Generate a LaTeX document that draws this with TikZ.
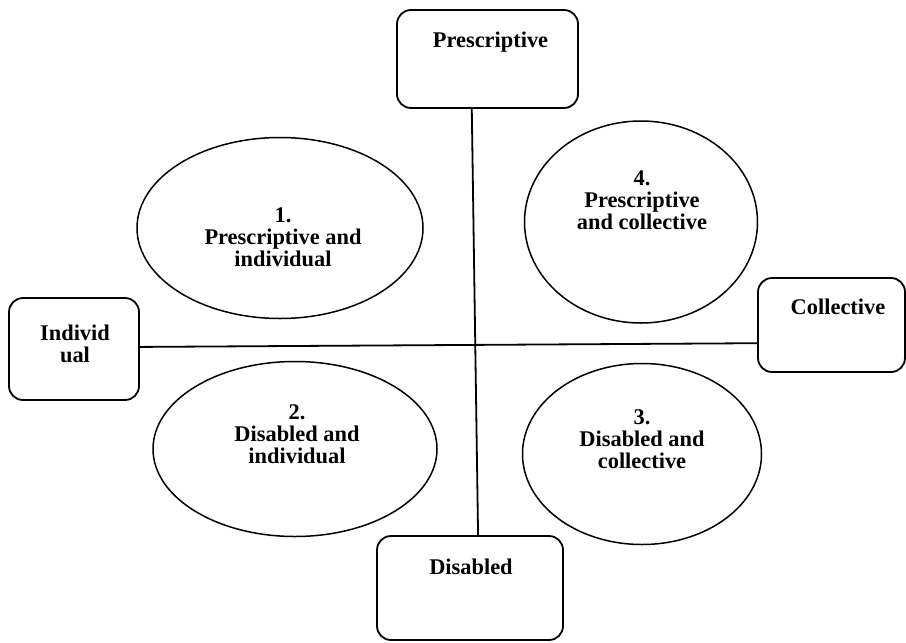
\documentclass[tikz,border=0pt]{standalone}
\usepackage{fontspec}
\setmainfont{Liberation Serif}
\usetikzlibrary{shapes.geometric,calc}
\begin{document}
\begin{tikzpicture}[x=0.5pt,y=-0.5pt,
  box/.style={draw,rounded corners=7pt,line width=0.9pt,inner sep=0pt},
  oval/.style={draw,ellipse,line width=0.75pt,inner sep=0pt},
  lbl/.style={font=\fontsize{11.2}{11}\selectfont\bfseries,align=center,inner sep=0pt},
  axis/.style={line width=0.9pt}]
\useasboundingbox (0,0) rectangle (906,643);
% boxes
\node[box,minimum width=90.5pt,minimum height=49pt] (pres) at (487.5,59) {};
\node[box,minimum width=65pt,minimum height=51pt] (ind) at (74,349) {};
\node[box,minimum width=73.5pt,minimum height=47pt] (coll) at (831.5,325) {};
\node[box,minimum width=93pt,minimum height=52pt] (dis) at (470,588) {};
% box labels
\node[lbl,anchor=base] (presT) at (490.5,47) {Prescriptive};
\node[lbl] (indT) at (75,344) {Individ\\ual};
\node[lbl,anchor=base] (collT) at (838,314) {Collective};
\node[lbl,anchor=base] (disT) at (471,574) {Disabled};
% ellipses
\node[oval,minimum width=143pt,minimum height=90.5pt] (e1) at (280,228) {};
\node[oval,minimum width=142pt,minimum height=87.5pt] (e2) at (295,449) {};
\node[oval,minimum width=119.5pt,minimum height=90.5pt] (e3) at (642,454) {};
\node[oval,minimum width=116.5pt,minimum height=101pt] (e4) at (641,222) {};
% ellipse labels
\node[lbl] (e1T) at (283,237) {1.\\Prescriptive and\\individual};
\node[lbl] (e2T) at (297,434) {2.\\Disabled and\\individual};
\node[lbl] (e3T) at (642,439) {3.\\Disabled and\\collective};
\node[lbl] (e4T) at (642,200) {4.\\Prescriptive\\and collective};
% axes
\draw[axis] ($(pres.south west)!0.414!(pres.south east)$) -- ($(dis.north west)!0.543!(dis.north east)$);
\draw[axis] ($(ind.north east)!0.48!(ind.south east)$) -- ($(coll.north west)!0.69!(coll.south west)$);
\end{tikzpicture}
\end{document}
